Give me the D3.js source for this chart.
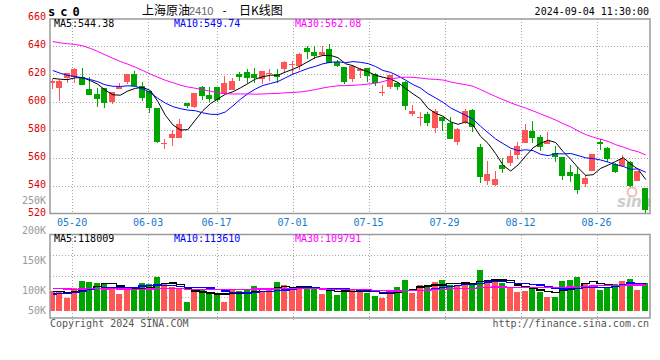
<!DOCTYPE html>
<html><head><meta charset="utf-8">
<script src="https://cdn.jsdelivr.net/npm/d3@7"></script>
<style>body{margin:0;background:#fff}svg{display:block}</style>
</head><body><svg id="c" width="660" height="360"></svg>
<script>
// ---------------- data ----------------
const dates = ["05-15","05-16","05-17","05-20","05-21","05-22","05-23","05-24","05-27","05-28",
"05-29","05-30","05-31","06-03","06-04","06-05","06-06","06-07","06-11","06-12",
"06-13","06-14","06-17","06-18","06-19","06-20","06-21","06-24","06-25","06-26",
"06-27","06-28","07-01","07-02","07-03","07-04","07-05","07-08","07-09","07-10",
"07-11","07-12","07-15","07-16","07-17","07-18","07-19","07-22","07-23","07-24",
"07-25","07-26","07-29","07-30","07-31","08-01","08-02","08-05","08-06","08-07",
"08-08","08-09","08-12","08-13","08-14","08-15","08-16","08-19","08-20","08-21",
"08-22","08-23","08-26","08-27","08-28","08-29","08-30","09-02","09-03","09-04"];
const opens = [613.6,610.3,617.2,618.1,617.6,609.1,605.7,609.8,600.3,609.1,
614.5,620.0,611.5,608.1,596.0,570.3,574.6,574.6,599.6,596.7,
610.5,605.0,610.5,605.5,608.6,619.7,621.4,619.7,616.2,619.7,
619.7,623.3,626.6,625.7,638.8,635.5,633.5,637.8,628.8,625.2,
616.2,622.4,624.1,620.0,606.2,611.0,613.4,614.5,591.7,588.8,
591.5,581.7,589.1,585.3,571.7,586.0,594.3,568.1,543.9,540.8,
555.0,556.2,562.2,571.0,579.5,575.3,570.0,563.4,560.5,550.3,
548.6,541.5,550.8,571.2,567.4,555.5,554.3,557.4,543.6,538.8];
const highs = [616.5,615.7,620.7,624.3,624.0,617.6,609.8,609.8,607.4,613.8,
620.0,622.4,614.5,608.1,596.0,573.4,580.0,587.9,599.6,606.7,
611.4,610.5,610.9,618.6,617.4,621.7,623.3,624.5,622.1,623.3,
623.3,629.5,629.5,634.7,640.0,640.0,640.0,641.4,630.0,625.2,
625.7,624.1,624.1,620.5,612.2,619.3,614.5,615.3,597.9,593.1,
593.1,594.8,589.6,589.1,581.2,594.8,595.0,570.0,557.9,550.8,
559.8,565.7,571.7,584.3,586.4,576.5,578.8,568.6,560.5,555.0,
553.4,547.9,562.9,573.4,568.1,556.7,562.2,558.1,550.8,538.8];
const lows = [609.3,600.5,613.4,613.4,612.2,604.8,596.7,596.0,598.6,609.1,
612.6,611.0,600.5,592.4,571.0,566.2,568.6,574.6,595.6,596.0,
601.4,600.2,600.2,605.5,608.6,615.2,613.3,613.3,612.8,615.2,
613.8,620.5,619.7,622.8,630.5,630.5,633.5,627.6,624.7,612.6,
614.5,616.9,614.1,611.5,604.5,609.3,608.6,594.3,590.0,582.9,
582.9,578.1,579.6,573.4,569.3,584.3,578.9,542.4,540.8,540.1,
549.1,554.3,559.1,571.0,570.5,565.3,570.0,557.4,544.3,543.1,
534.3,539.1,550.8,565.7,557.4,549.6,553.8,539.1,543.6,520.5];
const closes = [615.3,615.0,620.7,623.6,612.2,605.0,602.2,599.1,607.4,610.5,
620.0,611.7,602.7,596.0,571.7,570.8,577.2,584.3,597.2,606.2,
604.3,601.9,601.4,613.8,615.2,618.1,617.4,617.4,622.1,620.7,
618.1,628.5,627.4,634.3,635.9,632.8,635.9,627.6,625.9,614.5,
625.7,623.3,618.6,613.4,607.4,619.3,611.0,597.4,593.8,589.6,
585.3,593.6,586.7,573.9,580.8,593.8,581.9,546.7,548.6,544.8,
551.9,561.5,568.6,580.0,574.5,568.1,572.2,560.5,547.4,547.4,
537.2,545.5,562.9,570.0,559.1,550.3,559.1,540.0,550.8,522.9];
const volumes = [98800,96700,87200,102800,115000,113800,112200,111700,102800,93300,
102800,101200,112200,110000,121700,109500,104500,101200,80500,96200,
101200,96700,92800,80500,100000,98300,102200,106700,98800,100000,
113800,108300,102200,102800,101200,102800,93300,100000,91700,103300,
100000,96700,95500,90000,86700,100000,105000,116700,95500,108300,
108300,113300,116700,108300,108300,111200,107800,133300,116700,115000,
111200,102800,96700,98800,104500,96700,88300,88300,115000,116700,
121700,110000,106700,100000,102800,110000,115000,118300,100000,111700];
// sessions before the first visible one (needed by the moving averages)
const priorCloses = [642,640,639,641,660,668,675,677,680,678,
676,674,672,640,636,628,638,636,634,636,
634,636,632.3,621,617.2,618,622,617,612];
const priorVolumes = [112000,105000,118000,99000,104000,110000,121000,96000,108000,103000,
115000,101000,107000,112000,98000,109000,104000,111000,106000,112000,
92000,85000,90000,87000,90000,95000,99000,97000,99200];
const priceTicks = [660,640,620,600,580,560,540,520];
const volTicks = [250000,200000,150000,100000,50000];
const dateTicks = ["05-20","06-03","06-17","07-01","07-15","07-29","08-12","08-26"];
const maPeriods = [5,10,30];
const maColors = ["#000000","#0000ff","#ff00ff"];
const priceMaText = ["MA5:544.38","MA10:549.74","MA30:562.08"];
const volMaText = ["MA5:118009","MA10:113610","MA30:109791"];
const symbolText = "sc0";
const titleParts = ["上海原油","2410","-","日K线图"];
const timeText = "2024-09-04 11:30:00";

// ---------------- layout ----------------
const L = 50, R = 650, mT = 19, mB = 213.5, vT = 234.5, vB = 318, volBase = 310.5;
const UP = "#ff5555", DOWN = "#00a600";
const MONO = "'DejaVu Sans Mono', monospace";
const svg = d3.select("#c");
const n = dates.length;
const idx = d3.range(n);

const x = d3.scaleBand().domain(idx).range([49, 649.5]).padding(0);
const cx = i => x(i) + x.bandwidth() / 2;
const xGrid = d3.scaleLinear().domain([0, n - 1]).range([49.3, 649.8]);
const yP = d3.scaleLinear().domain([520, 660]).range([214, 18]);
const yV = d3.scaleLinear().domain([50000, 250000]).range([320, 200]);

function movingAvg(prior, vals, p) {
  const all = prior.concat(vals), off = prior.length;
  return vals.map((_, i) => d3.mean(all.slice(off + i - p + 1, off + i + 1)));
}
const priceMA = maPeriods.map(p => movingAvg(priorCloses, closes, p));
const volMA = maPeriods.map(p => movingAvg(priorVolumes, volumes, p));

const defs = svg.append("defs");
defs.append("clipPath").attr("id", "clipM").append("rect")
  .attr("x", L).attr("y", mT).attr("width", R - L).attr("height", mB - mT);
defs.append("clipPath").attr("id", "clipV").append("rect")
  .attr("x", L).attr("y", vT).attr("width", R - L).attr("height", vB - vT);

// ---------------- grid ----------------
const grid = svg.append("g").attr("stroke", "#aaa").attr("stroke-width", 1)
  .attr("stroke-dasharray", "1,2").attr("shape-rendering", "crispEdges");
priceTicks.filter(t => t < 660 && t > 520).forEach(t => {
  grid.append("line").attr("x1", L).attr("x2", R).attr("y1", Math.round(yP(t)) + 0.5).attr("y2", Math.round(yP(t)) + 0.5);
});
[1, 2, 3].forEach(k => {
  const yy = Math.round(vT + k * (vB - vT) / 4) + 0.5;
  grid.append("line").attr("x1", L).attr("x2", R).attr("y1", yy).attr("y2", yy);
});
dateTicks.forEach(d => {
  const xx = Math.round(xGrid(dates.indexOf(d))) + 0.5;
  grid.append("line").attr("x1", xx).attr("x2", xx).attr("y1", mT).attr("y2", mB);
  grid.append("line").attr("x1", xx).attr("x2", xx).attr("y1", vT).attr("y2", vB + 4);
});

// ---------------- watermark ----------------
const wm = svg.append("g").attr("opacity", 0.7);
wm.append("circle").attr("cx", 632).attr("cy", 192).attr("r", 4.5)
  .attr("fill", "none").attr("stroke", "#f0a0a0").attr("stroke-width", 2);
wm.append("text").attr("x", 617).attr("y", 207).text("sina")
  .attr("font-family", "'DejaVu Sans', sans-serif").attr("font-size", 15)
  .attr("font-weight", "bold").attr("font-style", "italic").attr("fill", "#b8b8b8");

// ---------------- candles ----------------
const cg = svg.append("g").attr("clip-path", "url(#clipM)").attr("shape-rendering", "crispEdges");
idx.forEach(i => {
  const up = closes[i] >= opens[i];
  const col = up ? UP : DOWN;
  const c = Math.round(cx(i));
  cg.append("rect").attr("x", c - 1).attr("width", 1)
    .attr("y", yP(highs[i])).attr("height", Math.max(1, yP(lows[i]) - yP(highs[i]))).attr("fill", col);
  const top = yP(Math.max(opens[i], closes[i])), bot = yP(Math.min(opens[i], closes[i]));
  cg.append("rect").attr("x", c - 4).attr("width", 6)
    .attr("y", top).attr("height", Math.max(1, bot - top)).attr("fill", col);
});

// price MA lines
const mg = svg.append("g").attr("clip-path", "url(#clipM)");
priceMA.forEach((arr, k) => {
  mg.append("path").datum(idx)
    .attr("d", d3.line().x(i => cx(i)).y(i => yP(arr[i])))
    .attr("fill", "none").attr("stroke", maColors[k]).attr("stroke-width", 1);
});

// ---------------- volume ----------------
const vg = svg.append("g").attr("clip-path", "url(#clipV)").attr("shape-rendering", "crispEdges");
idx.forEach(i => {
  const up = closes[i] >= opens[i];
  const c = Math.round(cx(i));
  vg.append("rect").attr("x", c - 4).attr("width", 6)
    .attr("y", yV(volumes[i])).attr("height", volBase - yV(volumes[i]))
    .attr("fill", up ? UP : DOWN);
});
volMA.forEach((arr, k) => {
  vg.append("path").datum(idx)
    .attr("d", d3.line().curve(d3.curveStep).x(i => cx(i)).y(i => yV(arr[i])))
    .attr("fill", "none").attr("stroke", maColors[k]).attr("stroke-width", 1.2);
});

// ---------------- frames ----------------
[[mT, mB], [vT, vB]].forEach(([a, b]) => {
  svg.append("rect").attr("x", L).attr("y", a).attr("width", R - L).attr("height", b - a)
    .attr("fill", "none").attr("stroke", "#9a9a9a").attr("stroke-width", 1.5);
});

// ---------------- texts ----------------
const txt = (s, xx, yy, opt = {}) => svg.append("text").attr("x", xx).attr("y", yy).text(s)
  .attr("font-family", opt.family || MONO).attr("font-size", opt.size || 10)
  .attr("fill", opt.fill || "#000").attr("text-anchor", opt.anchor || "start")
  .attr("font-weight", opt.weight || "normal")
  .attr("letter-spacing", opt.ls || 0);

priceTicks.forEach(t => txt(String(t), 46, yP(t) + 2.1, {anchor: "end", fill: "#e00000"}));
volTicks.forEach(v => txt((v / 1000) + "K", 46, Math.min(yV(v), volBase) + 3.6, {anchor: "end", fill: "#999"}));
dateTicks.forEach(d => txt(d, xGrid(dates.indexOf(d)), 225.5, {anchor: "middle", fill: "#1a78c8"}));

const maX = [54, 174, 295];
priceMaText.forEach((s, k) => txt(s, maX[k], 27, {fill: maColors[k]}));
volMaText.forEach((s, k) => txt(s, maX[k], 241.5, {fill: maColors[k]}));

txt(symbolText, 48, 15.7, {size: 12, weight: "bold", ls: 5});
const CJK = "'Noto Sans CJK SC', sans-serif";
txt(titleParts[0], 142, 14.5, {family: CJK, size: 12});
txt(titleParts[1], 189, 14.5, {family: "'Liberation Sans', sans-serif", size: 11, fill: "#666"});
txt(titleParts[2], 224.5, 14, {family: MONO, size: 11, anchor: "middle"});
txt(titleParts[3], 239, 14.5, {family: CJK, size: 12});
txt(timeText, 649, 15, {anchor: "end"});

txt("Copyright 2024 SINA.COM", 50, 326.5, {fill: "#555"});
txt("http://finance.sina.com.cn", 649, 326.5, {anchor: "end", fill: "#555"});
</script>
</body></html>
